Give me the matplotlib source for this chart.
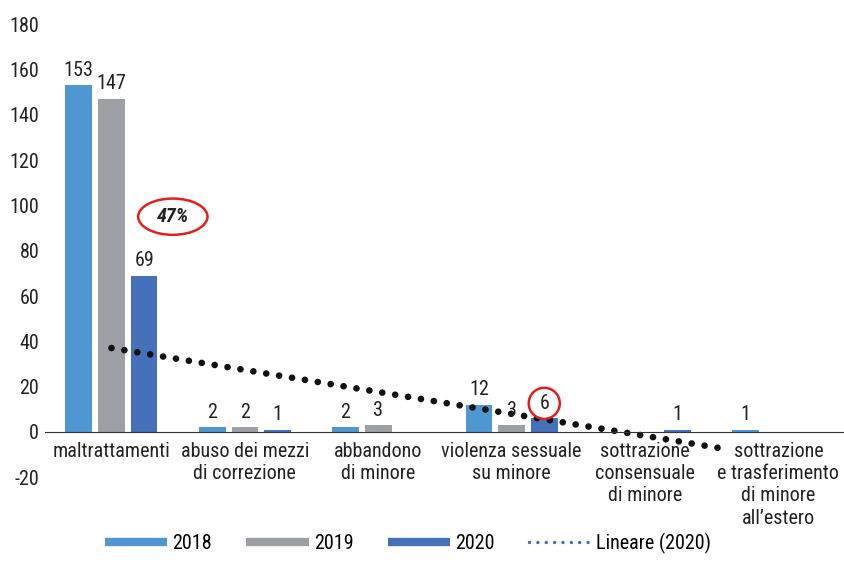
import matplotlib
matplotlib.use("Agg")
import matplotlib.pyplot as plt
import numpy as np
from matplotlib.lines import Line2D
from matplotlib.patches import Ellipse

plt.rcParams["font.family"] = ["Roboto Condensed", "DejaVu Sans"]
plt.rcParams["axes.unicode_minus"] = False

categories = ["maltrattamenti", "abuso dei mezzi\ndi correzione", "abbandono\ndi minore",
              "violenza sessuale\nsu minore", "sottrazione\nconsensuale\ndi minore",
              "sottrazione\ne trasferimento\ndi minore\nall\u2019estero"]
years = ["2018", "2019", "2020"]
v2018 = [153, 2, 2, 12, 0, 1]
v2019 = [147, 2, 3, 3, 0, 0]
v2020 = [69, 1, 0, 6, 1, 0]
colors = ["#4F97D3", "#9C9FA4", "#4471B9"]
yticks = [-20, 0, 20, 40, 60, 80, 100, 120, 140, 160, 180]

fs = 14.5
txt_color = "#222222"

fig = plt.figure(figsize=(8.45, 5.73), dpi=100)
ax = fig.add_axes([0.053, 0.167, 0.947, 0.791])
for s in ["left", "right", "top"]:
    ax.spines[s].set_visible(False)
ax.spines["bottom"].set_position(("data", 0))
ax.spines["bottom"].set_color("#333333")

x = np.arange(len(categories))
step = 0.245
width = 0.2
series = [v2018, v2019, v2020]
for i, vals in enumerate(series):
    pos = x + (i - 1) * step
    ax.bar(pos, vals, width, color=colors[i])
    for p, v in zip(pos, vals):
        if v == 0:
            continue
        t = ax.annotate(str(v), (p, v), xytext=(0, 4), textcoords="offset points",
                        ha="center", va="bottom", fontsize=fs, color=txt_color)
        if i == 2 and v == 6:
            t.set_bbox(dict(boxstyle="circle,pad=0.3", fc="white", ec="#E02020", lw=1.8))

# linear trendline for 2020
coef = np.polyfit(x + 1, v2020, 1)
xt = np.linspace(0, 4.55, 50)
ax.plot(xt, np.polyval(coef, xt + 1), color="#111111", lw=4.8,
        linestyle=(0, (0.01, 1.95)), dash_capstyle="round")

# 47% callout
ax.add_patch(Ellipse((0.46, 95), 0.52, 16, fc="white", ec="#E02020", lw=1.8, zorder=3))
ax.text(0.46, 95, "47%", ha="center", va="center", fontsize=fs, fontweight="bold",
        fontstyle="italic", color=txt_color, zorder=4)

ax.set_xlim(-0.5, 5.5)
ax.set_ylim(-20, 180)
ax.set_yticks(yticks)
ax.set_yticklabels([str(t) for t in yticks])
ax.set_xticks(x)
ax.set_xticklabels(categories, linespacing=1.22)
ax.tick_params(axis="both", labelsize=fs, labelcolor=txt_color, length=0)
ax.tick_params(axis="x", pad=7)
ax.tick_params(axis="y", pad=4)

handles = [Line2D([], [], color=c, lw=6, solid_capstyle="butt") for c in colors]
handles.append(Line2D([], [], color="#4471B9", lw=2.5, linestyle=(0, (0.01, 2.4)),
                      dash_capstyle="round"))
ax.legend(handles, years + ["Lineare (2020)"], loc="center", bbox_to_anchor=(0.454, -0.145),
          ncol=4, frameon=False, fontsize=fs, handlelength=3.1, handletextpad=0.25,
          columnspacing=1.7)

fig.savefig("out.png", dpi=100)
